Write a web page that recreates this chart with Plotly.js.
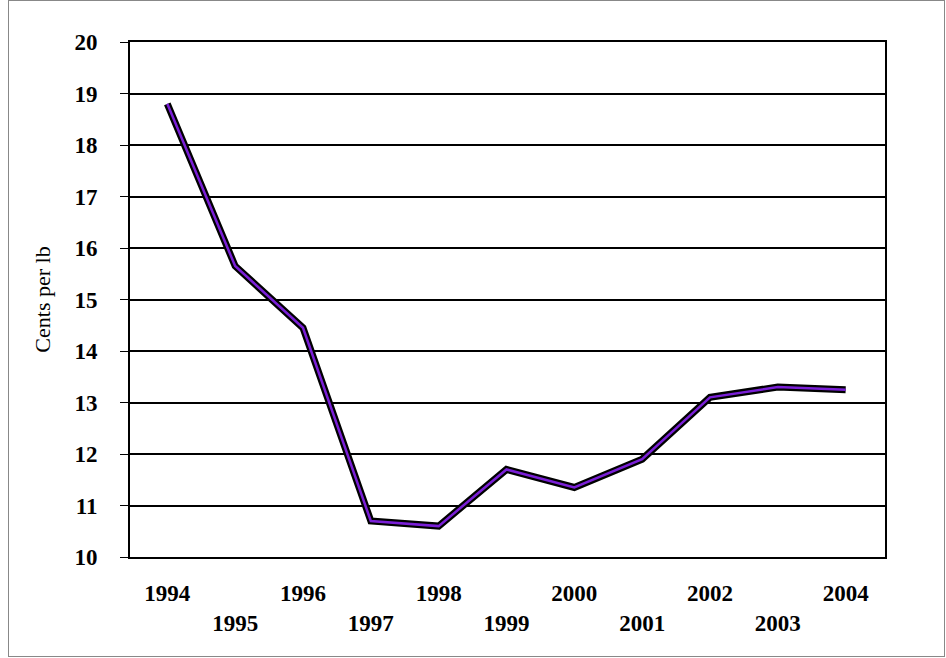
<!DOCTYPE html>
<html>
<head>
<script src="https://cdn.plot.ly/plotly-3.0.1.min.js"></script>
<style>
  body { margin: 0; }
  #frame { position: absolute; left: 8px; top: 0; width: 937px; height: 657px; border: 1px solid #888; box-sizing: border-box; }
  #chart { position: absolute; left: 0; top: 0; width: 946px; height: 658px; }
</style>
</head>
<body>
<div id="frame"></div>
<div id="chart"></div>
<script>
var years = ['1994', '1995', '1996', '1997', '1998', '1999', '2000', '2001', '2002', '2003', '2004'];
var cents = [18.8, 15.65, 14.45, 10.7, 10.6, 11.7, 11.35, 11.9, 13.1, 13.3, 13.25];

// odd years sit on a second row
var tickText = years.map(function(y, i) { return i % 2 ? '<br>' + y : y; });
var xs = years.map(function(y, i) { return i; });

var shadow = {
    x: xs, y: cents, mode: 'lines', hoverinfo: 'none',
    line: { color: 'black', width: 7 }
};
var ribbon = {
    x: xs, y: cents, mode: 'lines',
    line: { color: '#7a1fd6', width: 2.5 }
};

var layout = {
    width: 946, height: 658,
    margin: { l: 130, r: 61, t: 42, b: 101 },
    paper_bgcolor: 'rgba(0,0,0,0)',
    plot_bgcolor: 'white',
    showlegend: false,
    font: { family: 'Liberation Serif, Times New Roman, serif', color: 'black' },
    xaxis: {
        range: [-0.55, 10.58],
        tickvals: xs, ticktext: tickText,
        tickfont: { size: 23, family: 'Liberation Serif', weight: 'bold' },
        ticklabelstandoff: 14,
        showgrid: false, zeroline: false,
        showline: true, linecolor: 'black', linewidth: 2, mirror: true,
        ticks: ''
    },
    yaxis: {
        range: [10, 20], dtick: 1,
        tickfont: { size: 23, family: 'Liberation Serif', weight: 'bold' },
        ticklabelstandoff: 18,
        showgrid: true, gridcolor: 'black', gridwidth: 1.5,
        zeroline: false,
        showline: true, linecolor: 'black', linewidth: 2, mirror: true,
        ticks: 'outside', ticklen: 8, tickcolor: 'black',
        title: { text: 'Cents per lb', font: { size: 22, family: 'Liberation Serif' }, standoff: 18 }
    }
};

Plotly.newPlot('chart', [shadow, ribbon], layout, { displayModeBar: false });
</script>
</body>
</html>
